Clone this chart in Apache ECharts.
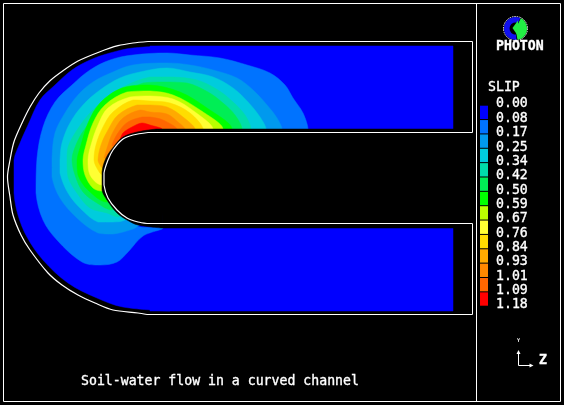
<!DOCTYPE html>
<html><head><meta charset="utf-8">
<style>html,body{margin:0;padding:0;background:#000}#c{width:564px;height:405px}</style>
<script src="https://cdn.jsdelivr.net/npm/echarts@6/dist/echarts.min.js"></script>
</head><body><div id="c"></div>
<script>
// Legend
const legendLabels = ['0.00','0.08','0.17','0.25','0.34','0.42','0.50','0.59','0.67','0.76','0.84','0.93','1.01','1.09','1.18'];
const bandColors = ['#0000ff','#0073ff','#0099ee','#00ccdd','#00ddaa','#00ee55','#00ff00','#bbff00','#ffff33','#ffdd00','#ffaa00','#ff8800','#ff6600','#ff0000'];

// Straight channel parts, lowest band
const channelTop = [[150,46],[453,46],[453,129],[150,129]];
const channelBottom = [[150,228],[453,228],[453,311],[150,311]];

// Contour outlines, in picture units
const band0 = [[170,46],[133,48],[110,53],[90,60],[72,70],[55,85],[40,100],[28,125],[20,143],[14,160],[14,193],[18,215],[27,237],[43,260],[68,283],[97,298],[123,307],[170,311]];
const band1 = [[308,129],[303,113],[293,98],[285,85],[270,73],[247,65],[220,58],[190,55],[167,53],[133,55],[110,60],[90,70],[72,85],[55,102],[43,127],[37,158],[36,193],[43,220],[57,240],[82,262],[100,265],[117,262],[128,252],[143,236],[163,228],[138,225]];
const band2 = [[282,129],[277,118],[267,105],[253,90],[237,78],[213,70],[190,65],[167,63],[133,65],[113,72],[93,82],[78,95],[65,113],[55,133],[52,158],[52,177],[60,198],[77,218],[98,233],[113,234],[133,229],[138,226]];
const band3 = [[266,129],[260,117],[248,102],[233,88],[213,77],[190,72],[167,68],[140,72],[120,78],[100,90],[83,105],[70,123],[62,143],[60,160],[60,173],[68,193],[82,210],[98,222],[113,222],[125,220]];
const band4 = [[251,129],[245,115],[233,102],[218,90],[197,80],[173,77],[150,77],[123,87],[107,98],[90,113],[77,130],[68,147],[67,160],[68,177],[77,193],[90,208],[107,213],[118,217]];
const band5 = [[242,129],[235,115],[223,103],[208,92],[187,83],[163,82],[143,83],[127,92],[110,103],[95,117],[82,133],[74,150],[72,160],[75,175],[83,192],[97,203],[112,210]];
const band6 = [[232,129],[207,108],[180,92],[150,85],[122,88],[100,103],[88,123],[81,145],[77,160],[78,175],[88,190],[107,202]];
const band7 = [[223,129],[200,110],[173,95],[150,91],[127,92],[105,105],[93,123],[86,145],[83,160],[85,175],[93,188],[102,191]];
const band8 = [[213,129],[195,112],[173,99],[150,96],[130,97],[108,108],[98,125],[91,145],[88,160],[90,175],[102,185]];
const band9 = [[203,129],[190,113],[170,103],[150,101],[133,100],[113,112],[103,127],[96,145],[94,160],[98,170],[103,175]];
const band10 = [[195,129],[183,117],[167,107],[150,105],[137,105],[118,115],[108,130],[101,145],[98,160],[100,165],[103,168]];
const band11 = [[185,129],[178,122],[167,114],[150,112],[140,110],[123,118],[113,132],[108,145],[104,158]];
const band12 = [[177,129],[163,120],[150,117],[142,117],[128,122],[120,130],[114,140],[112,146]];
const band13 = [[162,129],[150,125],[142,123],[132,127],[123,133],[120,140]];
const bands = [band0,band1,band2,band3,band4,band5,band6,band7,band8,band9,band10,band11,band12,band13];

// Region without data inside the channel bend
const holeArc = [[157,129],[137,132],[123,137],[115,145],[106,158],[102,172],[102,190],[107,200],[117,213],[127,220],[138,225],[163,228]];
const holeRect = [[157,129],[460,129],[460,228],[163,228]];

// Channel wall
const wallInner = [[148,132.5],[133,135],[123,139],[113,150],[108,160],[104,173],[104,185],[108,198],[117,210],[127,218],[138,222],[147,223.5]];
const wallOuter = [[147,314.5],[138,313],[113,310],[95,303],[78,295],[62,285],[48,273],[30,250],[21,235],[13,215],[10,197],[7.5,177],[10,160],[14,141.7],[22,123],[30,107],[39,93],[50,80.7],[63,70.7],[78,61],[100,51.7],[118,45.7],[133,43],[148,41.5]];
const wallRightTop = [[148,41.5],[472.5,41.5],[472.5,132.5],[148,132.5]];
const wallRightBottom = [[147,223.5],[472.5,223.5],[472.5,314.5],[147,314.5]];

const frame = [[3.5,3.5],[560.5,3.5],[560.5,401.5],[3.5,401.5],[3.5,3.5]];
const divider = [[476.5,3.5],[476.5,401.5]];
const triadY = [[518.5,352],[518.5,365.5],[532,365.5]];

const titleText = 'Soil-water flow in a curved channel';
const mono = '"DejaVu Sans Mono", monospace';

function pts(api, list){ return list.map(p => api.coord(p)); }
function bbox(p){
  const xs = p.map(q=>q[0]), ys = p.map(q=>q[1]);
  return [[Math.min(...xs),Math.min(...ys)],[Math.max(...xs),Math.max(...ys)]];
}
function single(name, render){
  return {type:'custom', name, coordinateSystem:'cartesian2d', xAxisIndex:0, yAxisIndex:0,
    data:[[0,0]], silent:true, clip:false, animation:false, renderItem:render};
}
function lineEl(api, list, w, smooth){
  const p = pts(api,list);
  return {type:'polyline', shape:{points:p, smooth:smooth||0, smoothConstraint:bbox(p)}, style:{fill:null, stroke:'#fff', lineWidth:w||1}};
}
function polyEl(api, list, fill, smooth){
  const p = pts(api,list);
  return {type:'polygon', shape:{points:p, smooth:smooth||0, smoothConstraint:bbox(p)}, style:{fill, stroke:fill, lineWidth:0.5}};
}
function textEl(api, p, s, opt){
  const c = api.coord(p);
  return {type:'text', x:c[0], y:c[1], style:Object.assign({text:s, fill:'#fff', stroke:'#fff', lineWidth:0.35, font:'13.2px '+mono, textAlign:'left', textVerticalAlign:'middle'}, opt||{})};
}

const option = {
  backgroundColor:'#000', animation:false,
  grid:[
    {left:0, top:0, width:564, height:405, show:false},
    {left:480, top:105.7, width:8, height:201, show:false},
    {left:480, top:104, width:8, height:201, show:false}
  ],
  xAxis:[
    {gridIndex:0, type:'value', min:0, max:564, show:false},
    {gridIndex:1, type:'value', min:0, max:1, show:false},
    {gridIndex:2, type:'value', min:0, max:1, show:false}
  ],
  yAxis:[
    {gridIndex:0, type:'value', min:0, max:405, inverse:true, show:false},
    {gridIndex:1, type:'category', inverse:true, boundaryGap:false, data:legendLabels, show:false},
    {gridIndex:2, type:'category', inverse:true, boundaryGap:false, data:legendLabels, position:'right',
      axisLine:{show:false}, axisTick:{show:false}, splitLine:{show:false},
      axisLabel:{show:true, interval:0, margin:8, color:'#fff', fontFamily:mono, fontSize:13.2, align:'left', textBorderColor:'#fff', textBorderWidth:0.35}}
  ],
  series:[
    single('channel',(p,api)=>({type:'group', children:[polyEl(api,channelTop,bandColors[0]),polyEl(api,channelBottom,bandColors[0])]})),
    {type:'custom', name:'SLIP', coordinateSystem:'cartesian2d', xAxisIndex:0, yAxisIndex:0, silent:true, clip:false, animation:false,
      data:bands.map((b,i)=>[i,0]),
      renderItem:(params,api)=>polyEl(api,bands[params.dataIndex],bandColors[params.dataIndex],0.35)},
    single('hole',(p,api)=>({type:'group', children:[polyEl(api,holeArc,'#000',0.35),polyEl(api,holeRect,'#000')]})),
    single('wall',(p,api)=>({type:'group', children:[
      lineEl(api,wallInner,1.2,0.3),lineEl(api,wallOuter,1.2,0.3),lineEl(api,wallRightTop,1),lineEl(api,wallRightBottom,1)]})),
    single('frame',(p,api)=>({type:'group', children:[lineEl(api,frame,1),lineEl(api,divider,1)]})),
    single('logo',(p,api)=>{
      const c = api.coord([515.5,28.5]);
      const sec=(r,r0,a,b,fill)=>({type:'sector', shape:{cx:c[0],cy:c[1],r,r0,startAngle:a*Math.PI/180,endAngle:b*Math.PI/180,clockwise:true}, style:{fill}});
      return {type:'group', children:[
        {type:'circle', shape:{cx:c[0],cy:c[1],r:12}, style:{fill:'#000',stroke:'#fff',lineWidth:1,lineDash:[1.5,1]}},
        sec(11.5,0,-62,80,'#22ee44'),
        sec(11.5,6,85,295,'#1111ee'),
        {type:'polygon', shape:{points:pts(api,[[512.5,28],[518,20.5],[518,36]])}, style:{fill:'#22ee44'}}
      ]};
    }),
    single('labels',(p,api)=>({type:'group', children:[
      textEl(api,[496,46.5],'PHOTON',{font:'bold 13.2px '+mono}),
      textEl(api,[488,88],'SLIP'),
      textEl(api,[81,381.5],titleText),
      textEl(api,[539,360.5],'Z',{font:'bold 13.2px '+mono}),
      textEl(api,[517,341],'Y',{font:'bold 5px '+mono, lineWidth:0})
    ]})),
    single('triad',(p,api)=>({type:'group', children:[
      lineEl(api,triadY,1),
      {type:'polygon', shape:{points:pts(api,[[518.5,350],[516.5,354],[520.5,354]])}, style:{fill:'#fff'}},
      {type:'polygon', shape:{points:pts(api,[[533.5,365.5],[529.5,363.5],[529.5,367.5]])}, style:{fill:'#fff'}}
    ]})),
    {type:'custom', name:'legend', coordinateSystem:'cartesian2d', xAxisIndex:1, yAxisIndex:1, silent:true, animation:false,
      data:bandColors.map((c,i)=>[0,i]),
      renderItem:(params,api)=>{
        const i = params.dataIndex;
        const a = api.coord([0,i]), b = api.coord([1,i+1]);
        return {type:'rect', shape:{x:a[0], y:a[1], width:b[0]-a[0], height:b[1]-a[1]-1}, style:{fill:bandColors[i]}};
      }}
  ]
};
const chart = echarts.init(document.getElementById('c'), null, {renderer:'canvas', width:564, height:405});
chart.setOption(option);
</script></body></html>
